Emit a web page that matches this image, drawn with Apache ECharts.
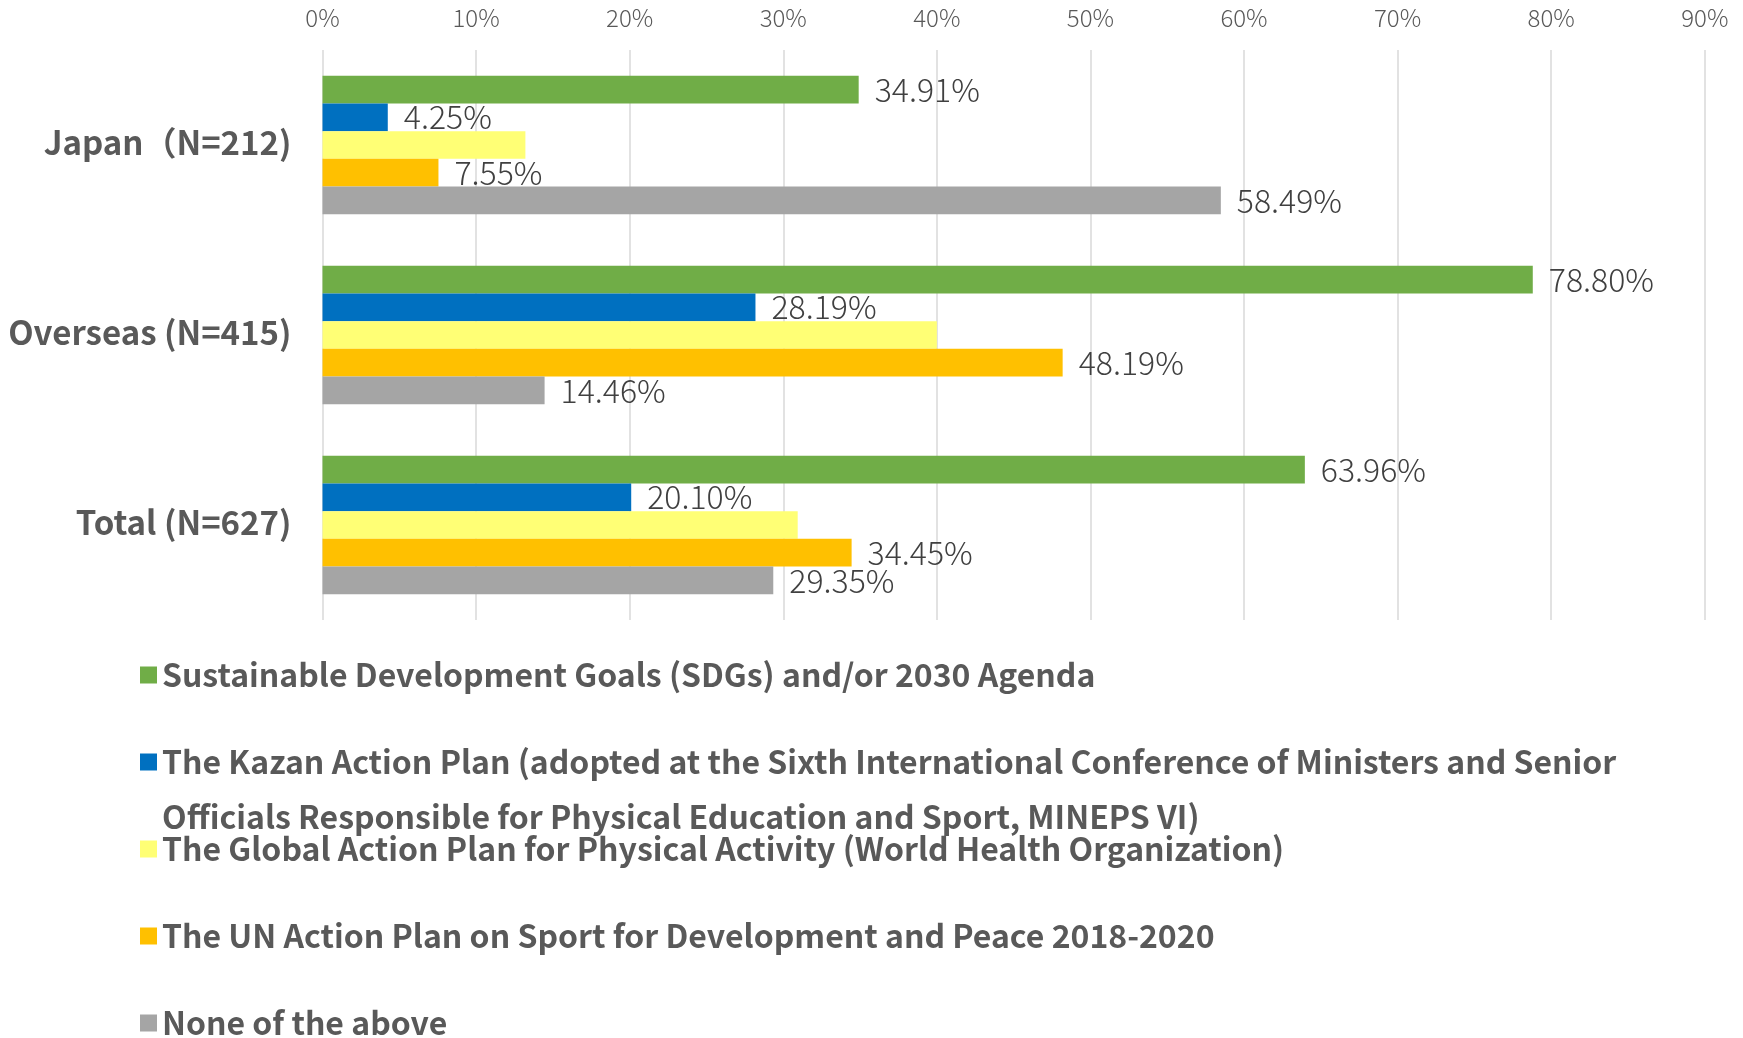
<!DOCTYPE html>
<html>
<head>
<meta charset="utf-8">
<script src="https://cdn.jsdelivr.net/npm/echarts@6/dist/echarts.min.js"></script>
<style>
  html, body { margin: 0; padding: 0; background: #ffffff; }
  #chart { width: 1743px; height: 1038px; }
</style>
</head>
<body>
<div id="chart"></div>
<script>
// ---- data ----
const categories = ['Japan（N=212)', 'Overseas (N=415)', 'Total (N=627)'];
const seriesNames = [
  'Sustainable Development Goals (SDGs) and/or 2030 Agenda',
  'The Kazan Action Plan (adopted at the Sixth International Conference of Ministers and Senior Officials Responsible for Physical Education and Sport, MINEPS VI)',
  'The Global Action Plan for Physical Activity (World Health Organization)',
  'The UN Action Plan on Sport for Development and Peace 2018-2020',
  'None of the above'
];
const sdgs    = [34.91, 78.80, 63.96];
const kazan   = [4.25, 28.19, 20.10];
const globalP = [13.21, 40.00, 30.94];
const unPlan  = [7.55, 48.19, 34.45];
const none    = [58.49, 14.46, 29.35];
const showLabel = [true, true, false, true, true];
const colors = ['#70AD47', '#0070C0', '#FFFF75', '#FFC000', '#A5A5A5'];
const xTicks = { min: 0, max: 90, interval: 10 };
const kazanLine1 = 'The Kazan Action Plan (adopted at the Sixth International Conference of Ministers and Senior';
const kazanLine2 = 'Officials Responsible for Physical Education and Sport, MINEPS VI)';

const FONT = "'Noto Sans CJK JP', 'Noto Sans', sans-serif";
const values = [sdgs, kazan, globalP, unPlan, none];
// vertical centre of each legend entry
const legendCenters = [675, 762, 849, 936, 1023];

const chart = echarts.init(document.getElementById('chart'), null, { renderer: 'canvas' });

const series = seriesNames.map((name, i) => ({
  name: name,
  type: 'bar',
  data: values[i],
  barGap: '0%',
  barCategoryGap: '27%',
  itemStyle: { color: colors[i] },
  label: {
    show: showLabel[i],
    position: 'right',
    distance: 16,
    color: '#404040',
    fontFamily: FONT,
    fontWeight: 300,
    fontSize: 32,
    formatter: p => p.value.toFixed(2) + '%'
  },
  emphasis: { disabled: true }
}));

const legends = seriesNames.map((name, i) => ({
  orient: 'vertical',
  left: 140,
  top: legendCenters[i] - 16,
  padding: 0,
  itemWidth: 17,
  itemHeight: 17,
  icon: 'rect',
  selectedMode: false,
  data: [name],
  formatter: n => (n === seriesNames[1] ? kazanLine1 : n),
  textStyle: {
    color: '#595959',
    fontFamily: FONT,
    fontWeight: 'bold',
    fontSize: 32,
    lineHeight: 32
  }
}));

chart.setOption({
  animation: false,
  textStyle: { fontFamily: FONT },
  grid: { left: 322.5, right: 38.2, top: 50, bottom: 418, containLabel: false },
  xAxis: {
    type: 'value',
    position: 'top',
    min: xTicks.min, max: xTicks.max, interval: xTicks.interval,
    axisLine: { show: false },
    axisTick: { show: false },
    axisLabel: {
      formatter: '{value}%',
      color: '#595959',
      fontFamily: FONT,
      fontWeight: 300,
      fontSize: 24,
      margin: 20
    },
    splitLine: { show: true, lineStyle: { color: '#D9D9D9', width: 1.5 } }
  },
  yAxis: {
    type: 'category',
    inverse: true,
    data: categories,
    axisLine: { show: false },
    axisTick: { show: false },
    axisLabel: {
      color: '#595959',
      fontFamily: FONT,
      fontWeight: 'bold',
      fontSize: 33,
      margin: 31,
      verticalAlign: 'bottom',
      lineHeight: 6
    }
  },
  legend: legends,
  graphic: [{
    type: 'text',
    x: 162,
    y: 817,
    style: {
      text: kazanLine2,
      fill: '#595959',
      align: 'left',
      verticalAlign: 'middle',
      font: "bold 32px 'Noto Sans CJK JP', 'Noto Sans', sans-serif"
    }
  }],
  series: series
});
</script>
</body>
</html>
